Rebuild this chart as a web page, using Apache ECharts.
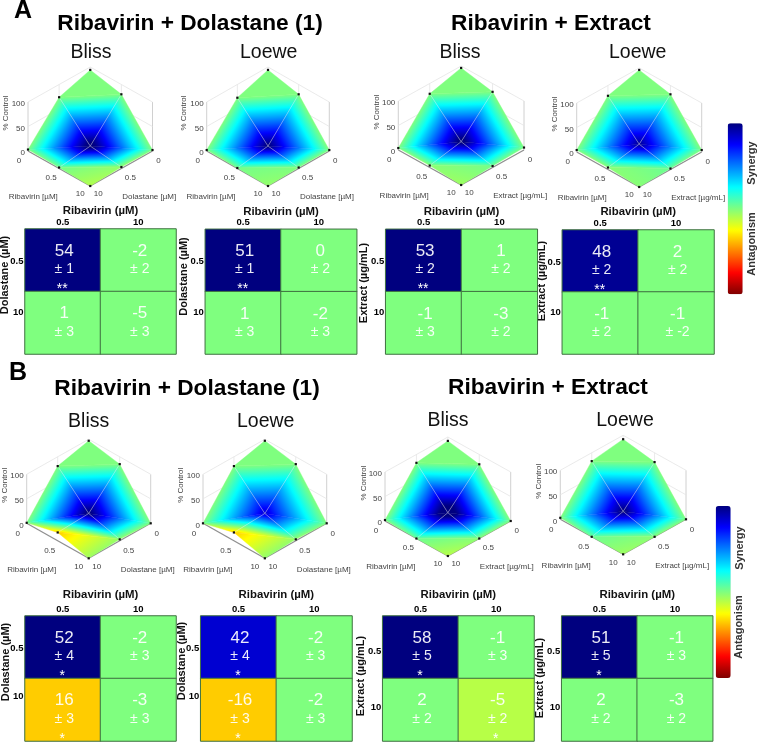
<!DOCTYPE html>
<html><head><meta charset="utf-8">
<style>html,body{margin:0;padding:0;background:#fff}#c{width:758px;height:742px}</style>
<script src="https://cdn.jsdelivr.net/npm/echarts@6/dist/echarts.min.js"></script>
</head><body><div id="c"></div>
<script>
// ---------- data ----------
const partnerDrugs = ['Dolastane','Dolastane','Extract','Extract','Dolastane','Dolastane','Extract','Extract'];
const partnerUnits = ['µM','µM','µg/mL','µg/mL','µM','µM','µg/mL','µg/mL'];
const methods = ['Bliss','Loewe','Bliss','Loewe','Bliss','Loewe','Bliss','Loewe'];
const doseLabels = ['0.5','10'];
const floorLabels = ['0','0.5','10'];
const zTicks = [0,50,100];
// cells order: [R0.5/P0.5, R10/P0.5, R0.5/P10, R10/P10]
const cellValues = [[54,-2,1,-5],[51,0,1,-2],[53,1,-1,-3],[48,2,-1,-1],[52,-2,16,-3],[42,-2,-16,-2],[58,-1,2,-5],[51,-1,2,-3]];
const cellErrors = [[1,2,3,3],[1,2,3,3],[2,2,3,2],[2,2,2,-2],[4,3,3,3],[4,3,3,3],[5,3,2,2],[5,3,2,2]];
const cellStars = [['**','','',''],['**','','',''],['**','','',''],['**','','',''],['*','','*',''],['*','','*',''],['*','','','*'],['*','','','']];
const cellLevels = [[54,0,0,0],[51,0,0,0],[53,0,0,0],[48,0,0,0],[52,0,-17.5,0],[42,0,-17.5,0],[58,0,0,-5.5],[51,0,0,0]];
// % control at [ribavirin index][partner index], doses 0, 0.5, 10
const surfaceHeights = [
 [[94,74,3],[80,10,2],[2,3,0]],
 [[94,73,2],[80,10,1],[2,2,0]],
 [[96,79,4],[83,17,4],[5,3,0]],
 [[96,79,4],[82,16,4],[4,2,0]],
 [[97,81,1],[85,20,17],[0,3,0]],
 [[97,81,0],[85,20,17],[0,3,0]],
 [[92,83,2],[80,17,0],[0,0,0]],
 [[92,83,3],[81,16,0],[0,0,0]]
];
const jetStops = ['#00007f','#0000ff','#007fff','#00ffff','#7fff7f','#ffff00','#ff7f00','#ff0000','#7f0000'];

// ---------- layout ----------
const surfaceBoxes = [[28,152.5,186],[206.7,329.3,186],[398.3,524,185],[576.7,701.7,187],[26.7,150.7,558.3],[203,326.7,558.3],[385,510.7,556],[560.3,686,554.3]];
const tableBoxes = [[25,176,229,354],[205.3,356.7,229.3,354],[385.7,537.3,229.3,354],[562.3,714,230,354],[25,176,616,741],[200.7,352,616,741],[382.7,534,616,741],[561.7,712.7,616,741]];
const methodPos = [[91,53],[268.7,53],[460,53],[637.7,53],[88.7,422],[265.7,422],[448,421],[625,421]];
const yNamePos = [[5,275],[184,276.5],[364,283],[542,281],[5.5,662],[181.7,661],[361,676],[540,678]];
const yTickShift = [[1,-10.5],[1,-10.5],[1,-10.5],[1,-10.5],[1,-13],[1,-13],[4,-2],[4,-2]];
const K = 35.7, SURF_H = 119;
const font = '"Liberation Sans",Arial,sans-serif';

// ---------- helpers ----------
const hex = h => [1,3,5].map(i=>parseInt(h.substr(i,2),16));
const jetStopsRgb = jetStops.map(hex);
function jet(t){
  t=Math.max(0,Math.min(1,t))*8; const i=Math.min(7,Math.floor(t)), f=t-i;
  const a=jetStopsRgb[i], b=jetStopsRgb[i+1];
  return 'rgb('+a.map((c,k)=>Math.round(c+(b[k]-c)*f)).join(',')+')';
}
const levelColor = v => jet((50-v)/100);
const project = (r,p,z) => [r-p, -(r+p)*K + z];
function vertexSynergy(n,r,p){
  if(r===0||p===0) return 0;
  const k=(r-1)*1+(p-1)*2, l=cellLevels[n][k];
  return l!==0?l:cellValues[n][k];
}
// quad triangulation of the 3x3 mesh, in dose indices
const meshTriangles = [
 [0,0,1,0,0,1],[1,0,0,1,1,1],
 [0,2,0,1,1,1],[0,2,1,2,1,1],
 [2,0,1,0,1,1],[2,0,2,1,1,1],
 [1,2,2,1,1,1],[1,2,2,1,2,2]
];
const meshLines = [[1,1,0,1],[1,1,1,0],[1,1,1,2],[1,1,2,1]];
const meshDots = [[0,0],[0,1],[1,0],[0,2],[2,0],[1,2],[2,1],[2,2]];
// frame: r1,p1,z1,r2,p2,z2,kind
const frameEdges = [
 [0,2,0,0,2,100,1],[2,0,0,2,0,100,1],
 [0,2,100,0,0,100,0],[0,0,100,2,0,100,0],
 [0,2,50,0,0,50,0],[0,0,50,2,0,50,0],
 [0,1,0,0,1,100,0],[1,0,0,1,0,100,0],[0,0,0,0,0,100,0],
 [0,2,0,2,2,0,2],[2,2,0,2,0,0,2]
];

function surfaceItem(n){
  const H = surfaceHeights[n];
  return function(params,api){
    const v=i=>api.value(i);
    const pts=[],vals=[];
    for(let i=0;i<3;i++){
      const r=v(i*2),p=v(i*2+1);
      pts.push(api.coord(project(r,p,H[r][p])));
      vals.push(vertexSynergy(n,r,p));
    }
    let fill;
    const lo=Math.min(...vals),hi=Math.max(...vals);
    if(hi-lo<1e-6) fill=levelColor(lo);
    else{
      const [a,b,c]=pts;
      const d1=[b[0]-a[0],b[1]-a[1]],d2=[c[0]-a[0],c[1]-a[1]];
      const det=d1[0]*d2[1]-d1[1]*d2[0];
      const dv1=vals[1]-vals[0],dv2=vals[2]-vals[0];
      const gx=(dv1*d2[1]-dv2*d1[1])/det, gy=(d1[0]*dv2-d2[0]*dv1)/det;
      const g2=gx*gx+gy*gy;
      const s=pts[vals.indexOf(lo)];
      const e=[s[0]+gx*(hi-lo)/g2,s[1]+gy*(hi-lo)/g2];
      const stops=[];
      for(let i=0;i<=32;i++) stops.push({offset:i/32,color:levelColor(lo+(hi-lo)*i/32)});
      fill=new echarts.graphic.LinearGradient(s[0],s[1],e[0],e[1],stops,true);
    }
    return {type:'polygon',shape:{points:pts},style:{fill:fill,stroke:fill,lineWidth:0.4},silent:true};
  };
}
function frameItem(params,api){
  const a=api.coord(project(api.value(0),api.value(1),api.value(2)));
  const b=api.coord(project(api.value(3),api.value(4),api.value(5)));
  const kind=api.value(6);
  return {type:'line',shape:{x1:a[0],y1:a[1],x2:b[0],y2:b[1]},silent:true,
    style:{stroke:['#e4e4e4','#c4c4c4','#8f8f8f'][kind],lineWidth:kind===2?1.3:0.8}};
}
function meshItem(n){
  const H=surfaceHeights[n];
  return function(params,api){
    const r1=api.value(0),p1=api.value(1),r2=api.value(2),p2=api.value(3);
    const a=api.coord(project(r1,p1,H[r1][p1])), b=api.coord(project(r2,p2,H[r2][p2]));
    return {type:'line',shape:{x1:a[0],y1:a[1],x2:b[0],y2:b[1]},silent:true,style:{stroke:'rgba(235,235,235,0.5)',lineWidth:0.8}};
  };
}
function dotItem(n){
  const H=surfaceHeights[n];
  return function(params,api){
    const r=api.value(0),p=api.value(1);
    const a=api.coord(project(r,p,H[r][p]));
    return {type:'rect',shape:{x:a[0]-1.1,y:a[1]-1.1,width:2.2,height:2.2},silent:true,style:{fill:'#111'}};
  };
}
function labelText(x,y,text,align,rot){
  return {type:'text',x:x,y:y,rotation:rot||0,silent:true,
    style:{text:text,fill:'#444',font:'8px '+font,align:align||'center',verticalAlign:'middle'}};
}
function labelsItem(n){
  return function(params,api){
    const L=[];
    const at=(r,p,z)=>api.coord(project(r,p,z));
    zTicks.forEach(z=>{const a=at(0,2,z);L.push(labelText(a[0]-3,a[1]+2,String(z),'right'));});
    const lp=[[0,-9,10],[1,-8,9.5],[2,-10,8]], rp=[[0,6,10],[1,9,9.5],[2,8,8]];
    lp.forEach(o=>{const a=at(o[0],2,0);L.push(labelText(a[0]+o[1],a[1]+o[2],floorLabels[o[0]]));});
    rp.forEach(o=>{const a=at(2,o[0],0);L.push(labelText(a[0]+o[1],a[1]+o[2],floorLabels[o[0]]));});
    const b=at(2,2,0);
    L.push(labelText(b[0]-57,b[1]+11,'Ribavirin [µM]'));
    L.push(labelText(b[0]+59,b[1]+11,partnerDrugs[n]+' ['+partnerUnits[n]+']'));
    L.push(labelText(b[0]-84,b[1]-73,'% Control','center',Math.PI/2));
    return {type:'group',children:L};
  };
}

// ---------- option ----------
const grids=[],xAxes=[],yAxes=[],series=[];
surfaceBoxes.forEach((b,n)=>{
  grids.push({left:b[0],width:b[1]-b[0],top:b[2]-SURF_H,height:SURF_H});
  xAxes.push({type:'value',gridIndex:n,min:-2,max:2,show:false});
  yAxes.push({type:'value',gridIndex:n,min:-4*K,max:100,show:false});
  const base={type:'custom',coordinateSystem:'cartesian2d',xAxisIndex:n,yAxisIndex:n,silent:true,animation:false,clip:false,tooltip:{show:false}};
  series.push(Object.assign({},base,{renderItem:frameItem,data:frameEdges}));
  series.push(Object.assign({},base,{renderItem:surfaceItem(n),data:meshTriangles}));
  series.push(Object.assign({},base,{renderItem:meshItem(n),data:meshLines}));
  series.push(Object.assign({},base,{renderItem:dotItem(n),data:meshDots}));
  series.push(Object.assign({},base,{renderItem:labelsItem(n),data:[[0]]}));
});
const heatIdxA=[],heatIdxB=[];
tableBoxes.forEach((b,n)=>{
  const g=grids.length, top=n<4;
  grids.push({left:b[0],width:b[1]-b[0],top:b[2],height:b[3]-b[2]});
  xAxes.push({type:'category',gridIndex:g,position:'top',data:doseLabels,name:'Ribavirin (µM)',nameLocation:'middle',nameGap:top?12:16,
    nameTextStyle:{fontFamily:font,fontWeight:'bold',fontSize:11.4,color:'#111'},
    axisLine:{show:false},axisTick:{show:false},splitLine:{show:false},
    axisLabel:{margin:1.5,fontFamily:font,fontWeight:'bold',fontSize:9.5,color:'#000'}});
  const pad=s=>s>=0?[2*s,0,0,0]:[0,0,-2*s,0];
  const tickStyle=s=>({fontFamily:font,fontWeight:'bold',fontSize:9.5,color:'#000',padding:pad(s)});
  yAxes.push({type:'category',gridIndex:g,inverse:true,data:doseLabels,
    axisLine:{show:false},axisTick:{show:false},splitLine:{show:false},
    axisLabel:{margin:1.5,formatter:(v,i)=>'{t'+i+'|'+v+'}',
      rich:{t0:tickStyle(yTickShift[n][0]),t1:tickStyle(yTickShift[n][1])}}});
  (top?heatIdxA:heatIdxB).push(series.length);
  const data=[];
  for(let k=0;k<4;k++) data.push([k%2,k>1?1:0,cellLevels[n][k]]);
  series.push({type:'heatmap',xAxisIndex:g,yAxisIndex:g,data:data,silent:true,animation:false,progressive:0,
    itemStyle:{borderColor:'#3f7040',borderWidth:1},emphasis:{disabled:true},
    label:{show:true,offset:[1.5,9],color:'#fff',
      formatter:p=>{
        const k=p.dataIndex, st=cellStars[n][k];
        return '{v|'+cellValues[n][k]+'}\n{e|± '+cellErrors[n][k]+'}\n{s|'+(st||' ')+'}';
      },
      rich:{v:{fontFamily:font,fontSize:17,lineHeight:18,color:'#fff',opacity:0.92},
            e:{fontFamily:font,fontSize:14,lineHeight:18,color:'#fff',opacity:0.92},
            s:{fontFamily:font,fontSize:14,lineHeight:18,color:'#fff',padding:[4,4,0,0]}}}
  });
});
const vm=(idx,left,top,h)=>({type:'continuous',min:-50,max:50,seriesIndex:idx,dimension:2,left:left,top:top,padding:0,
  itemWidth:15,itemHeight:h,calculable:false,hoverLink:false,text:null,showLabel:false,
  inRange:{color:jetStops.slice().reverse()},textStyle:{color:'rgba(0,0,0,0)',fontSize:1}});

const gText=(x,y,text,fontStr,fill,rot)=>({type:'text',x:x,y:y,rotation:rot||0,silent:true,
  style:{text:text,font:fontStr,fill:fill||'#000',align:'center',verticalAlign:'middle'}});
const graphics=[
  gText(23,11,'A','bold 25px '+font),
  gText(18,373,'B','bold 25px '+font),
  gText(190,24,'Ribavirin + Dolastane (1)','bold 22.7px '+font),
  gText(551,24,'Ribavirin + Extract','bold 22.7px '+font),
  gText(187,388.3,'Ribavirin + Dolastane (1)','bold 22.7px '+font),
  gText(548,387.7,'Ribavirin + Extract','bold 22.7px '+font),
  gText(752,163,'Synergy','bold 11px '+font,'#333',Math.PI/2),
  gText(752,244,'Antagonism','bold 11px '+font,'#333',Math.PI/2),
  gText(740,548,'Synergy','bold 11px '+font,'#333',Math.PI/2),
  gText(739,627,'Antagonism','bold 11px '+font,'#333',Math.PI/2)
];
methodPos.forEach((p,n)=>{
  graphics.push(gText(p[0],p[1],methods[n],'19.5px '+font,'#111'));
  graphics.push(gText(yNamePos[n][0],yNamePos[n][1],partnerDrugs[n]+' ('+partnerUnits[n]+')','bold 11px '+font,'#111',Math.PI/2));
});

const chart=echarts.init(document.getElementById('c'),null,{renderer:'canvas'});
chart.setOption({
  animation:false,backgroundColor:'#fff',
  grid:grids,xAxis:xAxes,yAxis:yAxes,series:series,
  visualMap:[vm(heatIdxA,727.7,123.3,171),vm(heatIdxB,715.7,506,172)],
  graphic:{elements:graphics}
});
</script></body></html>
